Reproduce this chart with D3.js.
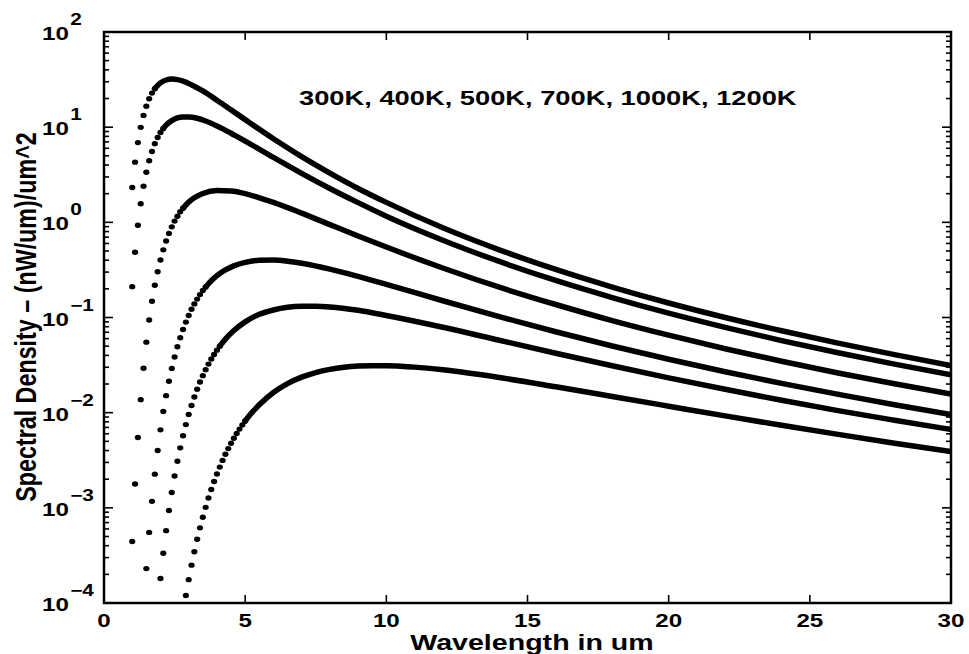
<!DOCTYPE html>
<html>
<head>
<meta charset="utf-8">
<script src="https://cdn.jsdelivr.net/npm/d3@7"></script>
<style>
  body { margin: 0; background: #fff; }
  text { font-family: "Liberation Sans", Arial, sans-serif; font-weight: bold; fill: #000; }
</style>
</head>
<body>
<div id="chart"></div>
<script>
// spectral density curves (nW/um)/um^2

const titleText = "300K, 400K, 500K, 700K, 1000K, 1200K";
const xTicks = [0, 5, 10, 15, 20, 25, 30];
const yDecades = [-4, -3, -2, -1, 0, 1, 2];

// separate dots on the steep rising side
const dotLam1200 = [1.0, 1.1, 1.2, 1.3, 1.4, 1.5, 1.6, 1.7, 1.8];
const dotVal1200 = [2.32, 4.29, 6.88, 9.95, 13.3, 16.6, 19.9, 22.8, 25.4];
const dotLam1000 = [1.0, 1.1, 1.2, 1.3, 1.4, 1.5, 1.6, 1.7, 1.8, 1.9, 2.0, 2.1];
const dotVal1000 = [0.211, 0.485, 0.933, 1.57, 2.39, 3.36, 4.44, 5.56, 6.69, 7.78, 8.79, 9.70];
const dotLam700 = [1.0, 1.1, 1.2, 1.3, 1.4, 1.5, 1.6, 1.7, 1.8, 1.9, 2.0, 2.1, 2.2, 2.3, 2.4, 2.5, 2.6, 2.7, 2.8];
const dotVal700 = [4.43e-4, 1.78e-3, 5.48e-3, 0.0137, 0.0293, 0.0551, 0.0941, 0.148, 0.218, 0.303,
                   0.402, 0.514, 0.636, 0.765, 0.897, 1.03, 1.16, 1.29, 1.41];
const dotLam500 = [1.5, 1.6, 1.7, 1.8, 1.9, 2.0, 2.1, 2.2, 2.3, 2.4, 2.5, 2.6, 2.7, 2.8, 2.9, 3.0,
                   3.1, 3.2, 3.3, 3.4, 3.5, 3.6];
const dotVal500 = [2.30e-4, 5.52e-4, 1.17e-3, 2.26e-3, 4.00e-3, 6.60e-3, 0.0103, 0.0151, 0.0214, 0.0292,
                   0.0384, 0.0492, 0.0613, 0.0748, 0.0895, 0.105, 0.122, 0.139, 0.156, 0.174, 0.192, 0.209];
const dotLam400 = [2.0, 2.1, 2.2, 2.3, 2.4, 2.5, 2.6, 2.7, 2.8, 2.9, 3.0, 3.1, 3.2, 3.3, 3.4, 3.5,
                   3.6, 3.7, 3.8, 3.9, 4.0, 4.1];
const dotVal400 = [1.81e-4, 3.33e-4, 5.76e-4, 9.39e-4, 1.45e-3, 2.16e-3, 3.09e-3, 4.27e-3, 5.73e-3, 7.49e-3,
                   9.56e-3, 0.0119, 0.0146, 0.0176, 0.0210, 0.0245, 0.0283, 0.0324, 0.0366, 0.0409, 0.0454, 0.0500];
const dotLam300 = [2.9, 3.0, 3.1, 3.2, 3.3, 3.4, 3.5, 3.6, 3.7, 3.8, 3.9, 4.0, 4.1, 4.2, 4.3, 4.4,
                   4.5, 4.6, 4.7, 4.8, 4.9, 5.0];
const dotVal300 = [1.20e-4, 1.76e-4, 2.50e-4, 3.45e-4, 4.67e-4, 6.16e-4, 7.97e-4, 1.01e-3, 1.27e-3, 1.56e-3,
                   1.89e-3, 2.27e-3, 2.68e-3, 3.15e-3, 3.65e-3, 4.19e-3, 4.77e-3, 5.39e-3, 6.04e-3, 6.72e-3,
                   7.44e-3, 8.17e-3];

// where the dots run together into a solid band
const lineLam1200 = [1.8, 2.0, 2.2, 2.4, 2.6, 2.8, 3.0, 3.5, 4, 4.5, 5, 6, 7, 8, 9, 10, 12, 14, 16, 18, 20, 22, 24, 26, 28, 30];
const lineVal1200 = [25.4, 29.2, 31.3, 32.0, 31.6, 30.5, 28.8, 24.0, 19.2, 15.2, 12.0, 7.55, 4.90, 3.29, 2.27, 1.62,
                     0.876, 0.514, 0.320, 0.209, 0.142, 0.100, 0.0725, 0.0538, 0.0407, 0.0313];
const lineLam1000 = [2.1, 2.2, 2.4, 2.6, 2.8, 3.0, 3.3, 3.6, 4, 4.5, 5, 6, 7, 8, 9, 10, 12, 14, 16, 18, 20, 22, 24, 26, 28, 30];
const lineVal1000 = [9.70, 10.5, 11.7, 12.5, 12.8, 12.8, 12.4, 11.6, 10.3, 8.64, 7.14, 4.81, 3.27, 2.27, 1.61, 1.16,
                     0.649, 0.388, 0.245, 0.162, 0.111, 0.0787, 0.0572, 0.0426, 0.0324, 0.0250];
const lineLam700 = [2.8, 3.0, 3.2, 3.5, 4.0, 4.5, 5.0, 5.5, 6, 7, 8, 9, 10, 12, 14, 16, 18, 20, 22, 24, 26, 28, 30];
const lineVal700 = [1.41, 1.63, 1.81, 2.01, 2.16, 2.13, 2.00, 1.81, 1.62, 1.25, 0.947, 0.719, 0.550, 0.331, 0.208,
                    0.137, 0.0928, 0.0652, 0.0470, 0.0347, 0.0261, 0.0201, 0.0157];
const lineLam500 = [3.6, 3.8, 4.0, 4.3, 4.6, 5.0, 5.5, 6, 6.5, 7, 8, 9, 10, 12, 14, 16, 18, 20, 22, 24, 26, 28, 30];
const lineVal500 = [0.209, 0.243, 0.275, 0.316, 0.349, 0.380, 0.399, 0.401, 0.390, 0.371, 0.322, 0.270, 0.223,
                    0.150, 0.102, 0.0708, 0.0502, 0.0364, 0.0269, 0.0203, 0.0156, 0.0121, 0.00957];
const lineLam400 = [4.1, 4.3, 4.6, 5.0, 5.5, 6, 6.5, 7, 7.5, 8, 9, 10, 12, 14, 16, 18, 20, 22, 24, 26, 28, 30];
const lineVal400 = [0.0500, 0.0593, 0.0730, 0.0900, 0.108, 0.120, 0.128, 0.131, 0.131, 0.129, 0.119, 0.105,
                    0.0790, 0.0577, 0.0421, 0.0311, 0.0232, 0.0176, 0.0135, 0.0105, 0.00832, 0.00665];
const lineLam300 = [5.0, 5.2, 5.5, 6.0, 6.5, 7.0, 7.5, 8, 8.5, 9, 9.5, 10, 11, 12, 14, 16, 18, 20, 22, 24, 26, 28, 30];
const lineVal300 = [8.17e-3, 9.72e-3, 0.0121, 0.0163, 0.0202, 0.0236, 0.0264, 0.0285, 0.0300, 0.0309, 0.0312,
                    0.0312, 0.0301, 0.0282, 0.0234, 0.0187, 0.0148, 0.0117, 0.00925, 0.00737, 0.00591,
                    0.00478, 0.00390];

const series = [
  { name: "1200K", dotL: dotLam1200, dotV: dotVal1200, lineL: lineLam1200, lineV: lineVal1200 },
  { name: "1000K", dotL: dotLam1000, dotV: dotVal1000, lineL: lineLam1000, lineV: lineVal1000 },
  { name: "700K",  dotL: dotLam700,  dotV: dotVal700,  lineL: lineLam700,  lineV: lineVal700 },
  { name: "500K",  dotL: dotLam500,  dotV: dotVal500,  lineL: lineLam500,  lineV: lineVal500 },
  { name: "400K",  dotL: dotLam400,  dotV: dotVal400,  lineL: lineLam400,  lineV: lineVal400 },
  { name: "300K",  dotL: dotLam300,  dotV: dotVal300,  lineL: lineLam300,  lineV: lineVal300 }
];

// svg dimensions and plot box
const width = 969;
const height = 654;
const box = { left: 104, right: 951, top: 32, bottom: 603 };
const sx = 1.3; // the lettering in the original is wide

const x = d3.scaleLinear().domain([0, 30]).range([box.left, box.right]);
const y = d3.scaleLog().domain([1e-4, 1e2]).range([box.bottom, box.top]);

const svg = d3.select("#chart")
    .append("svg")
    .attr("width", width)
    .attr("height", height);

svg.append("defs").append("clipPath")
    .attr("id", "plot-clip")
    .append("rect")
    .attr("x", box.left)
    .attr("y", box.top)
    .attr("width", box.right - box.left)
    .attr("height", box.bottom - box.top);

// tick marks, inward on all four sides
const ticks = svg.append("g").attr("stroke", "#000").attr("stroke-width", 1.6);

xTicks.forEach(t => {
    ticks.append("line").attr("x1", x(t)).attr("x2", x(t)).attr("y1", box.bottom).attr("y2", box.bottom - 8);
    ticks.append("line").attr("x1", x(t)).attr("x2", x(t)).attr("y1", box.top).attr("y2", box.top + 8);
});

yDecades.forEach(p => {
    const v = Math.pow(10, p);
    ticks.append("line").attr("x1", box.left).attr("x2", box.left + 9).attr("y1", y(v)).attr("y2", y(v));
    ticks.append("line").attr("x1", box.right).attr("x2", box.right - 9).attr("y1", y(v)).attr("y2", y(v));
    if (p < 2) {
        for (let m = 2; m <= 9; m++) {
            const mv = m * v;
            ticks.append("line").attr("x1", box.left).attr("x2", box.left + 5).attr("y1", y(mv)).attr("y2", y(mv));
            ticks.append("line").attr("x1", box.right).attr("x2", box.right - 5).attr("y1", y(mv)).attr("y2", y(mv));
        }
    }
});

// frame
svg.append("rect")
    .attr("x", box.left)
    .attr("y", box.top)
    .attr("width", box.right - box.left)
    .attr("height", box.bottom - box.top)
    .attr("fill", "none")
    .attr("stroke", "#000")
    .attr("stroke-width", 2.5);

// curves
const plot = svg.append("g").attr("clip-path", "url(#plot-clip)");

const line = d3.line()
    .x(d => x(d[0]))
    .y(d => y(d[1]))
    .curve(d3.curveMonotoneX);

series.forEach(s => {
    const trace = s.lineL.map((l, i) => [l, s.lineV[i]]);
    plot.append("path")
        .attr("d", line(trace))
        .attr("fill", "none")
        .attr("stroke", "#000")
        .attr("stroke-width", 5.5)
        .attr("stroke-linecap", "round")
        .attr("stroke-linejoin", "round");

    const dots = s.dotL.map((l, i) => [l, s.dotV[i]]);
    plot.append("g")
        .selectAll("ellipse")
        .data(dots)
        .enter().append("ellipse")
        .attr("cx", d => x(d[0]))
        .attr("cy", d => y(d[1]))
        .attr("rx", 3.1)
        .attr("ry", 2.7)
        .attr("fill", "#000");
});

// x tick labels
xTicks.forEach(t => {
    svg.append("text")
        .attr("transform", `translate(${x(t)},626.5) scale(${sx},1)`)
        .attr("text-anchor", "middle")
        .attr("font-size", 18.6)
        .text(t);
});

// y tick labels: 10 with a raised exponent, left aligned like the original
yDecades.forEach(p => {
    const t = svg.append("text")
        .attr("transform", `translate(42,${y(Math.pow(10, p)) + 8}) scale(${sx},1)`)
        .attr("font-size", 18.6);
    t.append("tspan").text("10");
    t.append("tspan")
        .attr("dx", 1)
        .attr("dy", -15)
        .attr("font-size", 16)
        .text(p < 0 ? "\u2212" + (-p) : String(p));
});

// axis titles
svg.append("text")
    .attr("transform", `translate(532,650) scale(1.33,1)`)
    .attr("text-anchor", "middle")
    .attr("font-size", 21.5)
    .text("Wavelength in um");

svg.append("text")
    .attr("transform", `translate(36,317) rotate(-90) scale(1,${sx})`)
    .attr("text-anchor", "middle")
    .attr("font-size", 23.3)
    .text("Spectral Density \u2013 (nW/um)/um^2");

// temperature list
svg.append("text")
    .attr("transform", `translate(299,105) scale(${sx},1)`)
    .attr("font-size", 21)
    .text(titleText);
</script>
</body>
</html>
